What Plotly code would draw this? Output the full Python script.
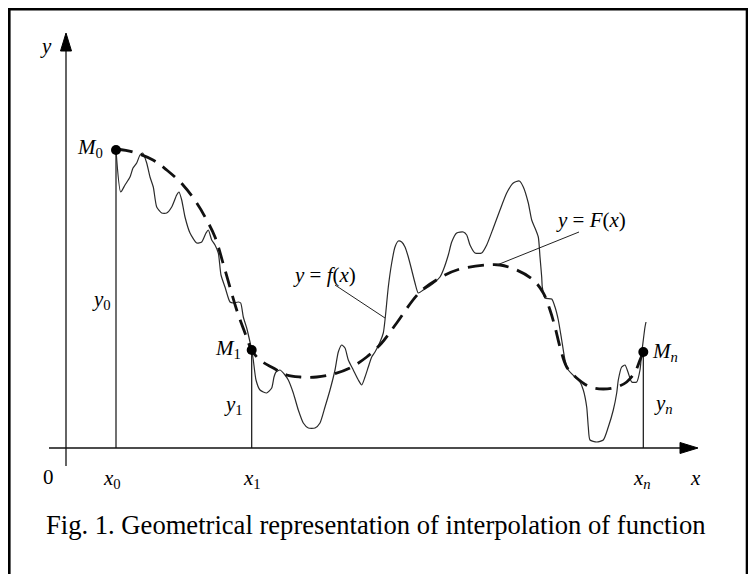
import plotly.graph_objects as go

# ---- data (x in figure units, y = height above the x axis) ----
f_x = [116, 120.7, 125, 130, 133, 136.7, 140, 142.7, 146.7, 150, 153.3, 156.7, 161.7, 166.7,
       171.7, 176.7, 179, 181.7, 185, 190, 196.7, 201.7, 206, 208.3, 211.7, 215, 218.3, 221,
       225, 230, 233.3, 238.3, 240.7, 243.3, 246.7, 250, 251.7, 253.3, 256, 260, 266.7, 271.7,
       274, 276, 280, 285, 288.3, 293.3, 298.3, 303.3, 308.3, 315, 320, 325, 330, 335, 338.3,
       341.7, 345, 348.3, 353.3, 358.3, 361.7, 365, 368.3, 371.7, 375, 380, 383.3, 385, 386.7,
       388.3, 391.7, 395, 398.3, 401.7, 405, 408.3, 411.7, 415, 418.3, 423.3, 428.3, 435, 440,
       443.3, 448.3, 451.7, 456.7, 463.3, 466.7, 470, 475, 481.7, 486.7, 493.3, 500, 506.7,
       513.3, 519.3, 523.3, 528.3, 531.7, 535, 538.3, 540, 541.7, 542.3, 545, 551.7, 555, 558.3,
       561.7, 565, 568.3, 575, 580, 583.3, 586.7, 588.3, 590, 596.7, 603.3, 608.3, 613.3, 616.7,
       618.3, 621.7, 625, 628.3, 631.7, 636.7, 640, 641.7, 643.3, 645, 646]
f_y = [298, 256, 263, 271, 280, 285, 293, 295, 285, 271, 261, 241, 235, 235,
       241, 253, 256, 248, 231, 215, 205, 206, 215, 218, 208, 203, 195, 173,
       161, 146, 145, 146, 145, 131, 120, 106, 98, 88, 68, 58, 55, 60,
       71, 76, 78, 73, 68, 55, 38, 25, 20, 20, 25, 41, 58, 78, 96,
       103, 100, 88, 78, 68, 63, 71, 81, 91, 96, 106, 115, 128, 145,
       161, 185, 201, 207, 206, 201, 191, 178, 165, 155, 158, 161, 166, 171,
       178, 193, 206, 215, 216, 213, 203, 195, 195, 203, 220, 238, 255,
       265, 267, 261, 245, 228, 220, 211, 191, 171, 161, 150, 149, 141, 128,
       108, 88, 78, 71, 66, 58, 41, 21, 8, 6, 8, 21, 38, 55,
       68, 81, 83, 75, 66, 66, 78, 95, 108, 121, 126]

F_x = [116.7, 133, 153, 166.7, 183, 196.7, 206.7, 215, 225, 236.7, 245, 251.7, 260, 273.3,
       286.7, 300, 316.7, 333.3, 350, 366.7, 381.7, 396.7, 420, 443.3, 460, 486.7, 500, 516.7,
       533.3, 543.3, 550, 555, 560, 566.7, 576.7, 590, 603.3, 616.7, 626.7, 635, 640, 643.3]
F_y = [299, 296, 288, 278, 263, 245, 228, 211, 178, 138, 115, 98, 88, 80,
       73, 71, 71, 74, 80, 91, 105, 125, 156, 172, 179, 183, 183, 178,
       168, 155, 138, 121, 101, 81, 70, 61, 59, 61, 66, 76, 88, 96]

node_x = [116, 251.7, 643.3]
node_y = [298, 98, 96]
node_M_labels = ["<i>M</i><sub>0</sub>", "<i>M</i><sub>1</sub>", "<i>M<sub>n</sub></i>"]
node_y_labels = ["<i>y</i><sub>0</sub>", "<i>y</i><sub>1</sub>", "<i>y<sub>n</sub></i>"]
node_x_labels = ["<i>x</i><sub>0</sub>", "<i>x</i><sub>1</sub>", "<i>x<sub>n</sub></i>"]
caption = "Fig. 1. Geometrical representation of interpolation of function"

SERIF = "Liberation Serif, Times New Roman, serif"

fig = go.Figure()

# vertical ordinates x_i -> M_i
for xv, yv in zip(node_x, node_y):
    fig.add_trace(go.Scatter(x=[xv, xv], y=[0, yv], mode="lines",
                             line=dict(color="#111", width=1.2), hoverinfo="skip"))

# f(x): wiggly thin line
fig.add_trace(go.Scatter(x=f_x, y=f_y, mode="lines",
                         line=dict(color="#2a2a2a", width=1.2, shape="spline", smoothing=0.6),
                         hoverinfo="skip"))
# F(x): dashed thick interpolant
fig.add_trace(go.Scatter(x=F_x, y=F_y, mode="lines",
                         line=dict(color="#111", width=2.8, dash="16px,9px", shape="spline", smoothing=1.0),
                         hoverinfo="skip"))
# nodes
fig.add_trace(go.Scatter(x=node_x, y=node_y, mode="markers",
                         marker=dict(color="#000", size=10), hoverinfo="skip"))

shapes = []
# frame
shapes.append(dict(type="rect", xref="x", yref="y", x0=9.3, x1=747, y0=438.8, y1=-160,
                   line=dict(color="#000", width=2.6)))
# axes
shapes.append(dict(type="line", x0=66, x1=66, y0=-18, y1=398, line=dict(color="#111", width=1.3)))
shapes.append(dict(type="line", x0=49, x1=682, y0=0, y1=0, line=dict(color="#111", width=1.3)))
# arrow heads
shapes.append(dict(type="path", path="M 66 415 L 60.5 397 L 71.5 397 Z",
                   fillcolor="#000", line=dict(color="#000", width=1)))
shapes.append(dict(type="path", path="M 698 0 L 680 5.5 L 680 -5.5 Z",
                   fillcolor="#000", line=dict(color="#000", width=1)))
# leader lines
shapes.append(dict(type="line", x0=335, y0=163, x1=385, y1=130, line=dict(color="#222", width=1)))
shapes.append(dict(type="line", x0=579, y0=216, x1=497, y1=183, line=dict(color="#222", width=1)))

ann = []
def lab(x, y, text, size=21, xanchor="center"):
    ann.append(dict(x=x, y=y, text=text, showarrow=False, xanchor=xanchor, yanchor="middle",
                    font=dict(family=SERIF, size=size, color="#000")))

lab(46, 402, "<i>y</i>")
lab(695, -30, "<i>x</i>")
lab(48, -29, "0")
Mpos = [(90, 300), (228, 99), (665, 96)]
ypos = [(101, 148), (233, 43), (663, 44)]
xpos = [(112, -31), (252, -31), (642, -31)]
for (px, py), t in zip(Mpos, node_M_labels):
    lab(px, py, t)
for (px, py), t in zip(ypos, node_y_labels):
    lab(px, py, t)
for (px, py), t in zip(xpos, node_x_labels):
    lab(px, py, t)
lab(324, 173, "<i>y</i> = <i>f</i>(<i>x</i>)")
lab(591, 228, "<i>y</i> = <i>F</i>(<i>x</i>)")
lab(375.5, -77, caption, size=26.6)

# page body has an 8px margin: size the figure to fit the 756x574 window exactly
fig.update_layout(
    width=748, height=566,
    margin=dict(l=0, r=0, t=0, b=0),
    paper_bgcolor="white", plot_bgcolor="white",
    showlegend=False,
    xaxis=dict(range=[8, 756], visible=False, fixedrange=True),
    yaxis=dict(range=[-126, 440], visible=False, fixedrange=True),
    shapes=shapes, annotations=ann,
)

fig.write_html("out.html")
